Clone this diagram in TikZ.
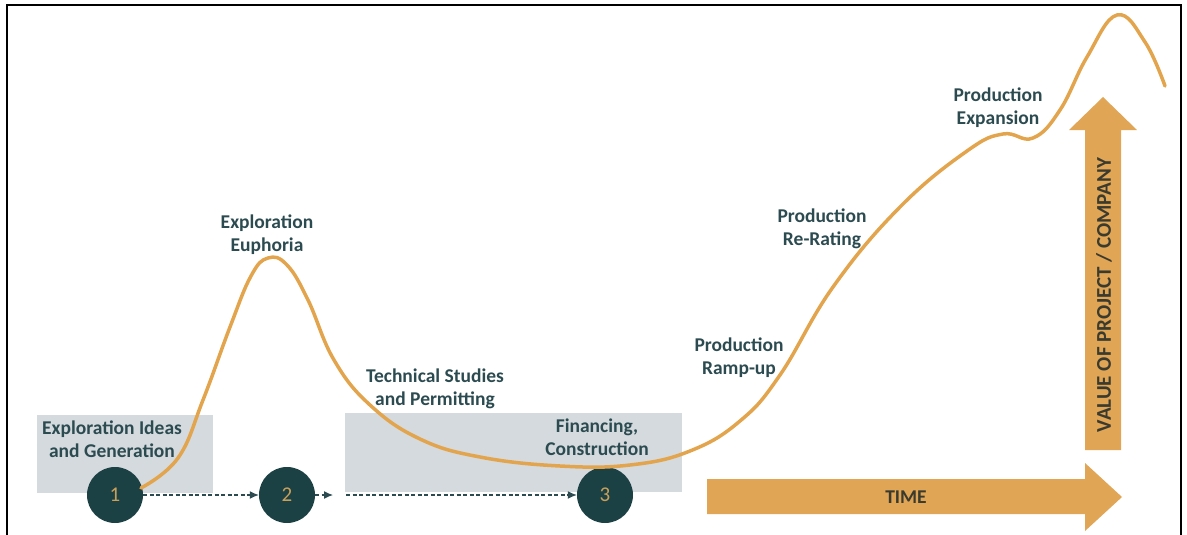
\documentclass[tikz,border=0pt]{standalone}
\usepackage{fontspec}
\setmainfont{Carlito}
\usetikzlibrary{arrows.meta}
\definecolor{teal}{HTML}{2C4B50}
\definecolor{disc}{HTML}{1C4144}
\definecolor{numc}{HTML}{C9A05A}
\definecolor{gold}{HTML}{E0A555}
\definecolor{curvec}{HTML}{E2A54E}
\definecolor{boxc}{HTML}{D4DADD}
\definecolor{axistext}{HTML}{3A3A2E}
\tikzset{
  lbl/.style={text=teal, font=\bfseries\fontsize{19.5}{23}\selectfont, align=center, inner sep=0pt},
  stepdisc/.style={circle, fill=disc, minimum size=56pt, inner sep=0pt, text=numc, font=\fontsize{21}{22}\selectfont},
  flow/.style={draw=teal, line width=1.2pt, dash pattern=on 4pt off 2.5pt, -{Latex[length=9pt,width=8pt]}},
  greybox/.style={fill=boxc, draw=none},
  bigarrow/.style={fill=gold, draw=none},
  axislbl/.style={text=axistext, font=\bfseries\fontsize{19.5}{22}\selectfont, inner sep=0pt}
}
\begin{document}
\begin{tikzpicture}[x=1pt,y=-1pt]
\useasboundingbox (0,0) rectangle (1187,535);
% frame
\draw[line width=2pt, black] (7,535) -- (7,5) -- (1181,5) -- (1181,535);
% grey phase boxes
\fill[greybox] (37,415) rectangle (213,493);
\fill[greybox] (345,413) rectangle (682,492);
% step discs
\node[stepdisc] (s1) at (115,495) {1};
\node[stepdisc] (s2) at (287,495) {2};
\node[stepdisc] (s3) at (605,495) {3};
\coordinate (g1) at (333,495);
\coordinate (g2) at (346,495);
\draw[flow] (s1) -- (s2);
\draw[flow] (s2) -- (g1);
\draw[flow] (g2) -- (s3);
% axis arrows
\fill[bigarrow] (707,479) -- (1085,479) -- (1085,463) -- (1122,497) -- (1085,531) -- (1085,514) -- (707,514) -- cycle;
\fill[bigarrow] (1085,450) -- (1085,130) -- (1069,130) -- (1103,97) -- (1137,130) -- (1121,130) -- (1121,450) -- cycle;
\node[axislbl] (time) at (906,497) {TIME};
\node[axislbl, rotate=90, font=\bfseries\fontsize{21}{23}\selectfont] (value) at (1104,295) {VALUE OF PROJECT / COMPANY};
% value curve
\draw[curvec, line width=3.5pt, line cap=round] plot[smooth, tension=0.7] coordinates {
 (141,488) (178,458) (203,400) (230,327) (251,276) (268,258) (287,265) (308,300) (334,360) (370,405) (420,439) (480,457) (560,466) (630,465) (690,451) (740,421) (780,375) (833,287) (900,207) (967,151) (1003,134) (1033,138) (1060,110) (1087,57) (1117,15) (1145,42) (1165,86)};
% labels
\node[lbl] (l1) at (112,439) {Exploration Ideas\\and Generation};
\node[lbl] (l2) at (267,235) {Exploration\\Euphoria};
\node[lbl] (l3) at (435,389) {Technical Studies\\and Permitting};
\node[lbl] (l4) at (597,437) {Financing,\\Construction};
\node[lbl] (l5) at (739,358) {Production\\Ramp-up};
\node[lbl] (l6) at (822,229) {Production\\Re-Rating};
\node[lbl] (l7) at (998,108) {Production\\Expansion};
\end{tikzpicture}
\end{document}
